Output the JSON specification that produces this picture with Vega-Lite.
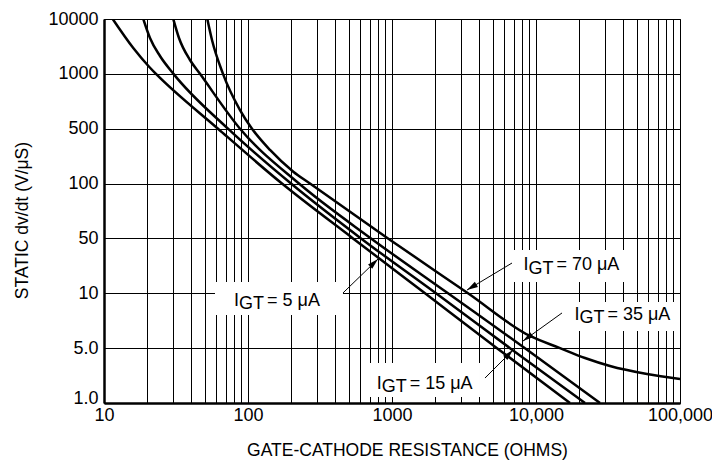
{
  "$schema": "https://vega.github.io/schema/vega-lite/v6.json",
  "width": 576,
  "height": 384,
  "autosize": {"type": "none"},
  "padding": {"left": 104, "top": 19, "right": 32, "bottom": 59},
  "background": "white",
  "config": {
    "font": "Liberation Sans",
    "view": {"stroke": "#333333", "strokeWidth": 1}
  },
  "datasets": {
    "curves": [
      {"curve": "5", "r": 11.49, "v": 10000},
      {"curve": "5", "r": 15.97, "v": 2960},
      {"curve": "5", "r": 20.64, "v": 1334},
      {"curve": "5", "r": 22.97, "v": 1000},
      {"curve": "5", "r": 61.9, "v": 500},
      {"curve": "5", "r": 172.2, "v": 100},
      {"curve": "5", "r": 536.0, "v": 50},
      {"curve": "5", "r": 1695, "v": 10},
      {"curve": "5", "r": 5360, "v": 5},
      {"curve": "5", "r": 17220, "v": 1},
      {"curve": "15", "r": 18.75, "v": 10000},
      {"curve": "15", "r": 20.86, "v": 4505},
      {"curve": "15", "r": 24.48, "v": 2116},
      {"curve": "15", "r": 30.38, "v": 1000},
      {"curve": "15", "r": 72.62, "v": 500},
      {"curve": "15", "r": 198.9, "v": 100},
      {"curve": "15", "r": 609.1, "v": 50},
      {"curve": "15", "r": 2021, "v": 10},
      {"curve": "15", "r": 6598, "v": 5},
      {"curve": "15", "r": 21890, "v": 1},
      {"curve": "35", "r": 30.28, "v": 10000},
      {"curve": "35", "r": 33.17, "v": 4505},
      {"curve": "35", "r": 39.55, "v": 1789},
      {"curve": "35", "r": 46.42, "v": 1000},
      {"curve": "35", "r": 88.01, "v": 500},
      {"curve": "35", "r": 226.0, "v": 100},
      {"curve": "35", "r": 714.9, "v": 50},
      {"curve": "35", "r": 2448, "v": 10},
      {"curve": "35", "r": 8386, "v": 5},
      {"curve": "35", "r": 27830, "v": 1},
      {"curve": "70", "r": 52.17, "v": 10000},
      {"curve": "70", "r": 56.23, "v": 4142},
      {"curve": "70", "r": 67.05, "v": 1000},
      {"curve": "70", "r": 88.01, "v": 633},
      {"curve": "70", "r": 106.6, "v": 500},
      {"curve": "70", "r": 142.2, "v": 268},
      {"curve": "70", "r": 206.3, "v": 141.7},
      {"curve": "70", "r": 269.5, "v": 100},
      {"curve": "70", "r": 938.1, "v": 50},
      {"curve": "70", "r": 3371, "v": 10},
      {"curve": "70", "r": 9085, "v": 5.83},
      {"curve": "70", "r": 14680, "v": 5},
      {"curve": "70", "r": 21890, "v": 3.74},
      {"curve": "70", "r": 32650, "v": 2.96},
      {"curve": "70", "r": 58990, "v": 2.34},
      {"curve": "70", "r": 100000, "v": 2.02}
    ],
    "boxes": [
      {"label": "5", "r": 58.99, "r2": 456.7, "v": 13.93, "v2": 7.60},
      {"label": "70", "r": 6706, "r2": 41510, "v": 35.6, "v2": 13.93},
      {"label": "35", "r": 16160, "r2": 96850, "v": 8.956, "v2": 6.21},
      {"label": "15", "r": 703.5, "r2": 4084, "v": 3.23, "v2": 1.19}
    ],
    "arrows": [
      {"label": "5", "r": 456.7, "v": 10.1, "r2": 799.5, "v2": 27.3},
      {"label": "70", "r": 6813, "v": 24.3, "r2": 3318, "v2": 11.0},
      {"label": "35", "r": 15160, "v": 7.80, "r2": 8123, "v2": 5.47},
      {"label": "15", "r": 4424, "v": 2.08, "r2": 6922, "v2": 4.73}
    ],
    "heads": [
      {"label": "5", "r": 799.5, "v": 27.3, "angle": 45.8},
      {"label": "70", "r": 3318, "v": 11.0, "angle": 239},
      {"label": "35", "r": 8123, "v": 5.47, "angle": 234.3},
      {"label": "15", "r": 6922, "v": 4.73, "angle": 45}
    ],
    "labels": [
      {"label": "5", "r": 79.95, "v": 8.557, "rest": "= 5 μA"},
      {"label": "70", "r": 8175, "v": 19.8, "rest": "= 70 μA"},
      {"label": "35", "r": 18480, "v": 7.136, "rest": "= 35 μA"},
      {"label": "15", "r": 783, "v": 1.53, "rest": "= 15 μA"}
    ]
  },
  "encoding": {
    "x": {
      "field": "r",
      "type": "quantitative",
      "scale": {"type": "log", "domain": [10, 100000], "nice": false},
      "axis": {
        "title": "GATE-CATHODE RESISTANCE (OHMS)",
        "values": [10, 20, 30, 40, 50, 60, 70, 80, 90, 100, 200, 300, 400, 500, 600, 700, 800, 900, 1000, 2000, 3000, 4000, 5000, 6000, 7000, 8000, 9000, 10000, 20000, 30000, 40000, 50000, 60000, 70000, 80000, 90000, 100000],
        "labelExpr": "datum.value == 10000 ? '10,000' : datum.value == 100000 ? '100,000' : (datum.value == 10 || datum.value == 100 || datum.value == 1000) ? '' + datum.value : ''",
        "labelFlush": false,
        "labelOverlap": false,
        "ticks": false,
        "tickSize": 0,
        "labelPadding": 3,
        "labelFont": "Liberation Sans",
        "labelFontSize": 18,
        "labelColor": "black",
        "grid": true,
        "gridColor": "#000000",
        "gridWidth": 1,
        "gridOpacity": 1,
        "domainColor": "black",
        "domainWidth": 2.5,
        "titleFont": "Liberation Sans",
        "titleFontSize": 17.5,
        "titleFontWeight": "normal",
        "titleColor": "black",
        "titleX": 303,
        "titleY": 52.5,
        "titleBaseline": "alphabetic",
        "titleAlign": "center"
      }
    },
    "y": {
      "field": "v",
      "type": "quantitative",
      "scale": {"type": "log", "domain": [1, 5, 10, 50, 100, 500, 1000, 10000], "range": [384, 329.143, 274.286, 219.429, 164.571, 109.714, 54.857, 0], "nice": false},
      "axis": {
        "title": "STATIC dv/dt (V/μS)",
        "values": [1, 5, 10, 50, 100, 500, 1000, 10000],
        "labelExpr": "datum.value == 1 ? '1.0' : datum.value == 5 ? '5.0' : '' + datum.value",
        "labelBaseline": {"condition": {"test": "datum.value == 1", "value": "alphabetic"}, "value": "middle"},
        "labelFlush": false,
        "labelOverlap": false,
        "ticks": false,
        "tickSize": 0,
        "labelPadding": 6,
        "labelFont": "Liberation Sans",
        "labelFontSize": 18,
        "labelColor": "black",
        "grid": true,
        "gridColor": "#000000",
        "gridWidth": 1,
        "gridOpacity": 1,
        "domainColor": "black",
        "domainWidth": 2.5,
        "titleFont": "Liberation Sans",
        "titleFontSize": 17.5,
        "titleFontWeight": "normal",
        "titleColor": "black",
        "titleX": -76.5,
        "titleY": 201,
        "titleAngle": -90,
        "titleBaseline": "alphabetic",
        "titleAlign": "center"
      }
    }
  },
  "layer": [
    {
      "data": {"name": "boxes"},
      "mark": {"type": "rect", "fill": "white", "stroke": null},
      "encoding": {
        "x2": {"field": "r2"},
        "y2": {"field": "v2"}
      }
    },
    {
      "data": {"name": "curves"},
      "mark": {"type": "line", "color": "black", "strokeWidth": 2.5, "interpolate": "monotone", "clip": true},
      "encoding": {
        "detail": {"field": "curve", "type": "nominal"}
      }
    },
    {
      "data": {"name": "arrows"},
      "mark": {"type": "rule", "color": "black", "strokeWidth": 1},
      "encoding": {
        "x2": {"field": "r2"},
        "y2": {"field": "v2"}
      }
    },
    {
      "data": {"name": "heads"},
      "mark": {"type": "point", "shape": "M0,0L-0.55,2L0.55,2Z", "filled": true, "size": 120, "color": "black", "opacity": 1, "strokeWidth": 0},
      "encoding": {
        "angle": {"field": "angle", "type": "quantitative", "scale": null}
      }
    },
    {
      "data": {"name": "labels"},
      "mark": {"type": "text", "text": "I", "align": "left", "baseline": "alphabetic", "fontSize": 18, "font": "Liberation Sans", "color": "black"}
    },
    {
      "data": {"name": "labels"},
      "mark": {"type": "text", "text": "GT", "align": "left", "baseline": "alphabetic", "fontSize": 18, "font": "Liberation Sans", "color": "black", "dx": 5, "dy": 3.5}
    },
    {
      "data": {"name": "labels"},
      "mark": {"type": "text", "align": "left", "baseline": "alphabetic", "fontSize": 18, "font": "Liberation Sans", "color": "black", "dx": 33},
      "encoding": {
        "text": {"field": "rest", "type": "nominal"}
      }
    }
  ]
}
